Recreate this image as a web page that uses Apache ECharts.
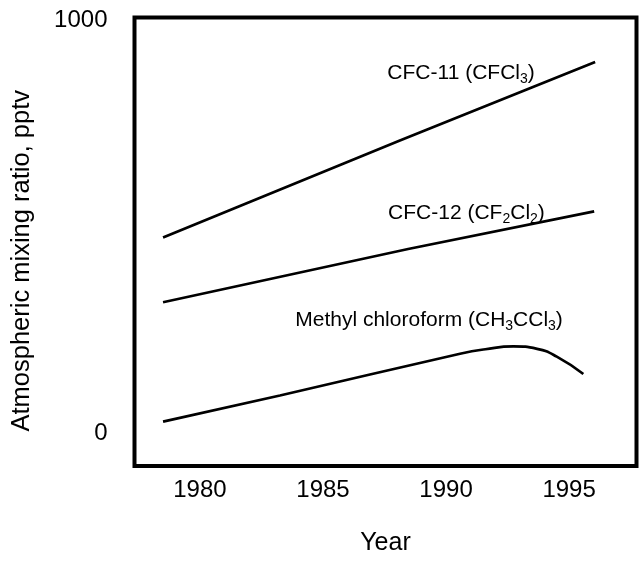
<!DOCTYPE html>
<html>
<head>
<meta charset="utf-8">
<script src="https://cdn.jsdelivr.net/npm/echarts@6/dist/echarts.min.js"></script>
<style>html,body{margin:0;padding:0;background:#fff}#c{width:640px;height:561px}</style>
</head>
<body>
<div id="c"></div>
<script>
// Data
const xTickLabels = [1980, 1985, 1990, 1995];
const yTickLabels = [0, 1000];

const cfc11Years  = [1978.5, 1988.1, 1996.06];
const cfc11Values = [474, 708, 899];

const cfc12Years  = [1978.5, 1988.46, 1996.02];
const cfc12Values = [317, 446, 537];

const methylYears  = [1978.5, 1983.25, 1990.57, 1991.6, 1992.74, 1993.7, 1994.5, 1995.58];
const methylValues = [27.5, 91, 192, 203, 210, 204, 185, 143];

const seriesLabels = ['CFC-11 (CFCl{s|3})', 'CFC-12 (CF{s|2}Cl{s|2})', 'Methyl chloroform (CH{s|3}CCl{s|3})'];

function pairs(xs, ys) { return xs.map((x, i) => [x, ys[i]]); }

const FONT = '"Liberation Sans", Arial, Helvetica, sans-serif';
const richSub = { s: { fontSize: 14, lineHeight: 12, padding: [12, 0, 0, 0], fontFamily: FONT, color: '#000' } };

function annot(coord, text) {
  return {
    symbol: 'circle',
    symbolSize: 1,
    silent: true,
    itemStyle: { color: 'rgba(0,0,0,0)' },
    data: [{ coord: coord }],
    label: {
      show: true, position: 'inside', formatter: text,
      fontFamily: FONT, fontSize: 21, lineHeight: 21, color: '#000',
      rich: richSub
    }
  };
}

const lineStyle = { color: '#000', width: 2.7 };

const chart = echarts.init(document.getElementById('c'), null, { renderer: 'canvas' });
chart.setOption({
  animation: false,
  backgroundColor: '#fff',
  grid: {
    left: 134.5, right: 3.5, top: 17.5, bottom: 93.5,
    show: true, borderWidth: 4, borderColor: '#000', backgroundColor: 'transparent'
  },
  xAxis: {
    type: 'value', min: 1977.34, max: 1997.74,
    name: 'Year', nameLocation: 'middle', nameGap: 65,
    nameTextStyle: { fontFamily: FONT, fontSize: 25, color: '#000' },
    axisLine: { show: false }, axisTick: { show: false }, splitLine: { show: false },
    axisLabel: { customValues: xTickLabels, formatter: v => String(v), fontFamily: FONT, fontSize: 24, color: '#000', margin: 12 }
  },
  yAxis: {
    type: 'value', min: -80, max: 1007,
    name: 'Atmospheric mixing ratio, pptv', nameLocation: 'middle', nameGap: 100,
    nameTextStyle: { fontFamily: FONT, fontSize: 25.5, color: '#000', padding: [0, 38, 0, 0] },
    axisLine: { show: false }, axisTick: { show: false }, splitLine: { show: false },
    axisLabel: { customValues: yTickLabels, formatter: v => String(v), fontFamily: FONT, fontSize: 24, color: '#000', margin: 27 }
  },
  series: [
    { type: 'line', name: 'CFC-11', data: pairs(cfc11Years, cfc11Values), showSymbol: false, smooth: false, lineStyle: lineStyle,
      markPoint: annot([1990.61, 873], seriesLabels[0]) },
    { type: 'line', name: 'CFC-12', data: pairs(cfc12Years, cfc12Values), showSymbol: false, smooth: false, lineStyle: lineStyle,
      markPoint: annot([1990.83, 532], seriesLabels[1]) },
    { type: 'line', name: 'Methyl chloroform', data: pairs(methylYears, methylValues), showSymbol: false, smooth: 0.5, lineStyle: lineStyle,
      markPoint: annot([1989.31, 274], seriesLabels[2]) }
  ]
});
</script>
</body>
</html>
